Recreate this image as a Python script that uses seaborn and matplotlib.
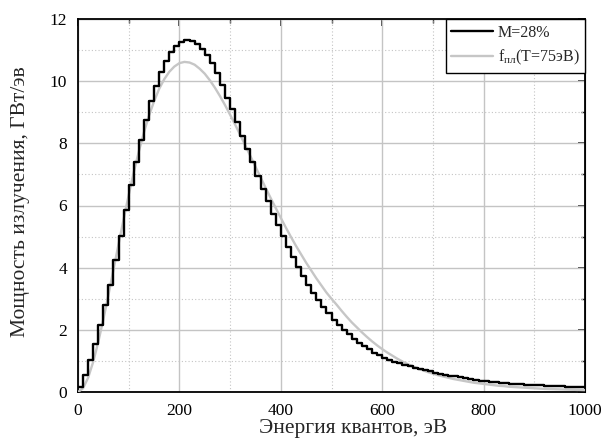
import numpy as np
import pandas as pd
import matplotlib
matplotlib.use("Agg")
import matplotlib.pyplot as plt
from matplotlib.ticker import MultipleLocator
import seaborn as sns

# ---- data ----
bin_start = list(range(0, 1000, 10))  # eV, 10 eV bins
hist_values = [
    0.16, 0.56, 1.02, 1.54, 2.15, 2.80, 3.44, 4.25, 5.02, 5.86,
    6.67, 7.39, 8.12, 8.76, 9.35, 9.84, 10.29, 10.65, 10.94, 11.13,
    11.26, 11.32, 11.28, 11.18, 11.02, 10.83, 10.57, 10.27, 9.89, 9.46,
    9.09, 8.68, 8.25, 7.82, 7.39, 6.96, 6.53, 6.13, 5.73, 5.38,
    5.02, 4.68, 4.33, 4.01, 3.73, 3.44, 3.19, 2.96, 2.74, 2.53,
    2.33, 2.15, 1.99, 1.86, 1.72, 1.58, 1.47, 1.37, 1.27, 1.18,
    1.10, 1.04, 0.98, 0.93, 0.88, 0.83, 0.78, 0.74, 0.70, 0.66,
    0.62, 0.59, 0.56, 0.53, 0.50, 0.47, 0.44, 0.41, 0.38, 0.36,
    0.34, 0.32, 0.31, 0.30, 0.28, 0.27, 0.26, 0.25, 0.24, 0.23,
    0.22, 0.21, 0.20, 0.195, 0.19, 0.18, 0.175, 0.17, 0.165, 0.16,
]
curve_energy = list(range(0, 1001, 10))
curve_values = [
    0.00, 0.12, 0.46, 0.97, 1.61, 2.34, 3.12, 3.94, 4.76, 5.56,
    6.34, 7.07, 7.74, 8.35, 8.89, 9.35, 9.75, 10.06, 10.30, 10.47,
    10.58, 10.62, 10.60, 10.53, 10.40, 10.24, 10.03, 9.79, 9.52, 9.23,
    8.92, 8.60, 8.27, 7.93, 7.59, 7.25, 6.91, 6.57, 6.24, 5.92,
    5.60, 5.29, 4.99, 4.70, 4.43, 4.16, 3.91, 3.66, 3.43, 3.20,
    3.00, 2.81, 2.61, 2.42, 2.24, 2.08, 1.92, 1.77, 1.63, 1.50,
    1.38, 1.27, 1.17, 1.07, 0.98, 0.90, 0.83, 0.76, 0.70, 0.64,
    0.59, 0.54, 0.50, 0.46, 0.42, 0.39, 0.36, 0.33, 0.30, 0.28,
    0.26, 0.24, 0.22, 0.20, 0.19, 0.17, 0.16, 0.15, 0.14, 0.13,
    0.12, 0.11, 0.10, 0.095, 0.09, 0.085, 0.08, 0.075, 0.07, 0.065,
    0.06,
]
label_hist = "M=28%"
label_curve = r"f$_{\mathrm{пл}}$(T=75эВ)"
x_label = "Энергия квантов, эВ"
y_label = "Мощность излучения, ГВт/эв"

# ---- style ----
sns.set_style("white")
plt.rcParams["font.family"] = ["Liberation Serif", "DejaVu Serif"]
plt.rcParams["mathtext.fontset"] = "custom"
plt.rcParams["mathtext.rm"] = "Liberation Serif"
plt.rcParams["mathtext.it"] = "Liberation Serif"
plt.rcParams["mathtext.default"] = "regular"

fig = plt.figure(figsize=(6.06, 4.41), dpi=100)
ax = fig.add_axes([78 / 606, 1 - 392 / 441, (585 - 78) / 606, (392 - 19) / 441])

step_df = pd.DataFrame({
    "E": bin_start + [1000],
    "P": hist_values + [hist_values[-1]],
})
curve_df = pd.DataFrame({"E": curve_energy, "P": curve_values})

sns.lineplot(data=step_df, x="E", y="P", ax=ax, color="black", lw=1.7,
             drawstyle="steps-post", label=label_hist, zorder=4)
sns.lineplot(data=curve_df, x="E", y="P", ax=ax, color="#c6c6c6", lw=1.7,
             label=label_curve, zorder=3)

ax.set_xlim(0, 1000)
ax.set_ylim(0, 12)
ax.xaxis.set_major_locator(MultipleLocator(200))
ax.xaxis.set_minor_locator(MultipleLocator(100))
ax.yaxis.set_major_locator(MultipleLocator(2))
ax.yaxis.set_minor_locator(MultipleLocator(1))

ax.set_axisbelow(True)
ax.grid(which="major", color="#c4c4c4", lw=1.0, ls="-")
ax.grid(which="minor", color="#c4c4c4", lw=0.8, ls=(0, (1, 2)))

for s in ax.spines.values():
    s.set_visible(True)
    s.set_color("black")
    s.set_linewidth(1.3)

ax.tick_params(which="major", direction="out", length=5, width=1.2,
               labelsize=12.5, colors="black", pad=3)
ax.tick_params(which="minor", direction="out", length=3, width=1.0)

# mirrored inward ticks on top and right
secx = ax.secondary_xaxis("top")
secx.xaxis.set_major_locator(MultipleLocator(200))
secx.xaxis.set_minor_locator(MultipleLocator(100))
secx.tick_params(which="major", direction="in", length=5, width=1.2, labeltop=False)
secx.tick_params(which="minor", direction="in", length=3, width=1.0)
secy = ax.secondary_yaxis("right")
secy.yaxis.set_major_locator(MultipleLocator(2))
secy.yaxis.set_minor_locator(MultipleLocator(1))
secy.tick_params(which="major", direction="in", length=5, width=1.2, labelright=False)
secy.tick_params(which="minor", direction="in", length=3, width=1.0)

ax.set_xlabel(x_label, fontsize=15.5, labelpad=0, x=0.542)
ax.set_ylabel(y_label, fontsize=15.5)
ax.yaxis.set_label_coords(-0.094, 0.51)

leg = ax.legend(loc="upper right", fontsize=11.5, frameon=True, fancybox=False,
                edgecolor="black", framealpha=1, borderaxespad=0,
                handlelength=2.6, handletextpad=0.3, borderpad=0.35,
                labelspacing=0.45)
leg.get_frame().set_linewidth(1.0)

fig.savefig("out.png", dpi=100)
